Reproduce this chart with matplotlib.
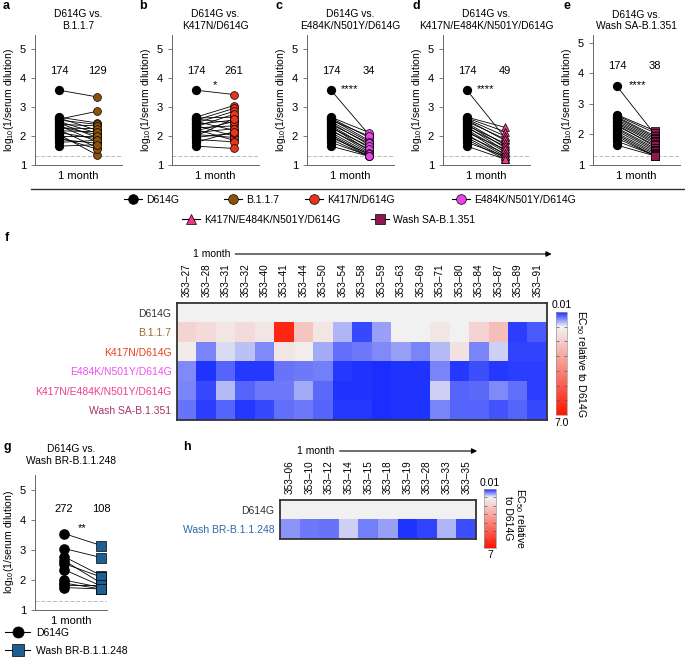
import numpy as np
import matplotlib
matplotlib.use("Agg")
import matplotlib.pyplot as plt
from matplotlib.colors import LinearSegmentedColormap, Normalize
from matplotlib.lines import Line2D

plt.rcParams["font.family"] = ["Liberation Sans", "DejaVu Sans"]
plt.rcParams["mathtext.fontset"] = "custom"
plt.rcParams["mathtext.rm"] = "Liberation Sans"

W, H = 685, 658


def rect(x, y, w, h):
    # pixel box (from top-left) -> figure fraction
    return [x / W, 1 - (y + h) / H, w / W, h / H]


# ---- data: paired neutralization titers (log10) ----
d614g = [3.58, 2.65, 2.62, 2.58, 2.55, 2.5, 2.45, 2.4, 2.36, 2.32,
         2.28, 2.22, 2.18, 2.12, 2.05, 2.0, 1.95, 1.88, 1.78, 1.65]
b117 = [3.35, 2.45, 2.2, 2.85, 2.4, 2.1, 1.95, 2.35, 1.8, 2.05,
        2.25, 1.6, 2.15, 1.9, 1.35, 2.0, 1.55, 1.75, 1.85, 1.7]
k417n = [3.43, 3.05, 2.65, 2.45, 2.95, 2.2, 2.85, 2.55, 2.0, 2.75,
         2.35, 1.85, 2.5, 2.25, 1.95, 2.6, 2.1, 1.8, 2.15, 1.57]
e484k = [2.05, 2.12, 1.95, 1.85, 2.0, 1.8, 1.7, 1.75, 1.6, 1.5,
         1.65, 1.45, 1.55, 1.4, 1.35, 1.3, 1.38, 1.3, 1.32, 1.3]
k417n_e484k = [1.95, 2.3, 2.15, 2.0, 1.85, 1.9, 1.7, 1.6, 1.75, 1.5,
               1.65, 1.45, 1.35, 1.55, 1.3, 1.4, 1.25, 1.2, 1.3, 1.2]
wash_sa = [2.0, 2.12, 2.05, 1.95, 1.9, 1.85, 1.8, 1.75, 1.7, 1.6,
           1.65, 1.55, 1.5, 1.45, 1.4, 1.35, 1.3, 1.3, 1.32, 1.3]

g_d614g = [3.55, 3.05, 2.78, 2.65, 2.55, 2.35, 2.0, 1.9, 1.85, 1.75]
g_wash_br = [3.15, 2.75, 2.15, 1.9, 2.1, 1.8, 1.75, 1.7, 1.85, 1.7]

titles = ["D614G vs.\nB.1.1.7", "D614G vs.\nK417N/D614G", "D614G vs.\nE484K/N501Y/D614G",
          "D614G vs.\nK417N/E484K/N501Y/D614G", "D614G vs.\nWash SA-B.1.351"]
gmt_left = ["174", "174", "174", "174", "174"]
gmt_right = ["129", "261", "34", "49", "38"]
stars = ["", "*", "****", "****", "****"]

variants = ["D614G", "B.1.1.7", "K417N/D614G", "E484K/N501Y/D614G",
            "K417N/E484K/N501Y/D614G", "Wash SA-B.1.351"]
fills = ["black", "#8c5208", "#e8341c", "#e645e6", "#f0388c", "#8c1a4c"]
markers = ["o", "o", "o", "o", "^", "s"]
label_colors = ["#333333", "#9a6a2a", "#e8401a", "#f050f0", "#f03c8c", "#a8326a"]

# ---- data: EC50 relative to D614G ----
f_cols = ["353–27", "353–28", "353–31", "353–32", "353–40", "353–41", "353–44",
          "353–50", "353–54", "353–58", "353–59", "353–63", "353–69", "353–71",
          "353–80", "353–84", "353–87", "353–89", "353–91"]
f_d614g = [1.0] * 19
f_b117 = [1.8, 1.6, 1.3, 1.6, 1.3, 6.5, 2.2, 1.3, 0.7, 0.15,
          0.6, 1.0, 1.0, 1.3, 1.0, 1.8, 2.4, 0.1, 0.25]
f_k417n = [1.2, 0.45, 0.9, 0.75, 0.5, 1.3, 1.15, 0.65, 0.35, 0.4,
           0.5, 0.6, 0.45, 0.72, 1.4, 0.45, 0.85, 0.12, 0.12]
f_e484k = [0.5, 0.05, 0.3, 0.07, 0.07, 0.38, 0.4, 0.44, 0.07, 0.05,
           0.02, 0.04, 0.04, 0.45, 0.08, 0.2, 0.08, 0.1, 0.1]
f_k417n_e484k = [0.45, 0.15, 0.72, 0.3, 0.4, 0.4, 0.65, 0.32, 0.06, 0.05,
                 0.02, 0.06, 0.05, 0.85, 0.3, 0.32, 0.5, 0.35, 0.1]
f_wash_sa = [0.38, 0.1, 0.3, 0.07, 0.15, 0.35, 0.4, 0.3, 0.08, 0.08,
             0.02, 0.05, 0.04, 0.45, 0.3, 0.3, 0.22, 0.3, 0.15]

h_cols = ["353–06", "353–10", "353–12", "353–14", "353–15", "353–18",
          "353–19", "353–28", "353–33", "353–35"]
h_d614g = [1.0] * 10
h_wash_br = [0.55, 0.4, 0.38, 0.85, 0.42, 0.6, 0.05, 0.12, 0.7, 0.18]

br_color = "#1f5f8f"
br_label_color = "#2a6aa8"

cmap = LinearSegmentedColormap.from_list(
    "ec50", [(0.0, "#1a2eff"), (0.99 / 6.99, "#f2f2f2"), (1.0, "#ff1400")])
norm = Normalize(0.01, 7.0)

fig = plt.figure(figsize=(W / 100, H / 100), dpi=100)


def paired_axes(box, left, right, color, marker, ytop, size=32):
    ax = fig.add_axes(rect(*box))
    for a, b in zip(left, right):
        ax.plot([0, 1], [a, b], color="black", lw=0.6, zorder=1)
    ax.scatter(np.zeros(len(left)), left, s=size, c="black", zorder=3)
    ax.scatter(np.ones(len(right)), right, s=size, c=color, marker=marker,
               edgecolors="black", linewidths=0.5, zorder=3)
    ax.axhline(1.3, color="#bbbbbb", lw=0.7, ls=(0, (4, 2)), zorder=0)
    ax.set_ylim(1, ytop)
    ax.set_yticks([1, 2, 3, 4, 5])
    ax.set_xticks([])
    ax.set_xlabel("1 month", fontsize=8, labelpad=4)
    ax.set_ylabel("log$_{\\mathregular{10}}$(1/serum dilution)", fontsize=7.5, labelpad=3)
    ax.tick_params(axis="y", labelsize=8, length=3, width=0.6, color="#666666")
    for s in ["top", "right"]:
        ax.spines[s].set_visible(False)
    for s in ["left", "bottom"]:
        ax.spines[s].set_linewidth(0.7)
        ax.spines[s].set_color("#666666")
    return ax


# ---- panels a-e ----
lefts = [35, 172, 307, 443, 593]
rights = [b117, k417n, e484k, k417n_e484k, wash_sa]
letters = ["a", "b", "c", "d", "e"]
letter_x = [3, 139, 276, 413, 564]
star_x = [0.5, 0.5, 0.5, 0.5, 0.55]
for i in range(5):
    if i == 4:
        ax = paired_axes((lefts[i], 35, 87, 130), d614g, rights[i], fills[i + 1],
                         markers[i + 1], 5.26)
    else:
        ax = paired_axes((lefts[i], 34.5, 87, 130.5), d614g, rights[i], fills[i + 1],
                         markers[i + 1], 5.5)
    ax.set_xlim(-0.63, 1.66)
    ax.set_title(titles[i], fontsize=7.4, pad=4, linespacing=1.2)
    ax.text(0, 4.25, gmt_left[i], ha="center", va="center", fontsize=8)
    ax.text(1, 4.25, gmt_right[i], ha="center", va="center", fontsize=8)
    if stars[i] == "*":
        ax.text(0.5, 3.75, stars[i], ha="center", va="center", fontsize=8)
    elif stars[i]:
        ax.text(star_x[i], 3.62, stars[i], ha="center", va="center", fontsize=8)
    fig.text(letter_x[i] / W, 1 - 6 / H, letters[i], fontsize=9, fontweight="bold",
             va="center")

# separator line
fig.add_artist(Line2D([31 / W, 1.0], [1 - 189 / H] * 2, color="#333333", lw=1.0))


def handle(color, marker, size=7):
    return Line2D([], [], color="black", lw=0.8, marker=marker, markersize=size,
                  markerfacecolor=color, markeredgecolor="black", markeredgewidth=0.5)


def legend_entry(h, label, x, y, fontsize=7.5, hl=1.7, pad=0.4):
    fig.legend([h], [label], loc="center left", frameon=False, borderpad=0,
               borderaxespad=0, bbox_to_anchor=(x / W, 1 - y / H), fontsize=fontsize,
               handlelength=hl, handletextpad=pad)


handles = [handle(c, m) for c, m in zip(fills, markers)]
entry_x = [124, 224, 305, 452, 182, 371]
entry_y = [200, 200, 200, 200, 220, 220]
for h, lab, x, y in zip(handles, variants, entry_x, entry_y):
    legend_entry(h, lab, x, y)


def heatmap(box, rows, row_labels, row_colors, cols, cbox, cb_label, cb_bottom, lpad):
    ax = fig.add_axes(rect(*box))
    im = ax.imshow(np.array(rows), cmap=cmap, norm=norm, aspect="auto",
                   interpolation="nearest")
    ax.set_xticks(range(len(cols)))
    ax.set_xticklabels(cols, rotation=90, fontsize=7.2)
    ax.xaxis.tick_top()
    ax.set_yticks(range(len(row_labels)))
    ax.set_yticklabels(row_labels, fontsize=7.5)
    for lab, c in zip(ax.get_yticklabels(), row_colors):
        lab.set_color(c)
    ax.tick_params(length=0, pad=4)
    for s in ax.spines.values():
        s.set_linewidth(1.3)
        s.set_color("#333333")
    cax = fig.add_axes(rect(*cbox))
    cb = fig.colorbar(im, cax=cax)
    cb.set_ticks([1, 2, 3, 4, 5, 6])
    cax.invert_yaxis()
    cb.ax.tick_params(direction="in", length=2.5, width=0.5, color="#555555",
                      labelright=False, left=True, right=True)
    cb.outline.set_linewidth(0.5)
    cb.outline.set_edgecolor("#999999")
    cax.text(0.5, 1.02, "0.01", ha="center", va="bottom", fontsize=7.5,
             transform=cax.transAxes)
    cax.text(0.5, -0.03, cb_bottom, ha="center", va="top", fontsize=7.5,
             transform=cax.transAxes)
    cb.set_label(cb_label, rotation=270, fontsize=7.5, labelpad=lpad, va="bottom",
                 linespacing=1.0)
    return ax


# ---- panel f ----
f_rows = [f_d614g, f_b117, f_k417n, f_e484k, f_k417n_e484k, f_wash_sa]
axf = heatmap((177, 303, 370, 117), f_rows, variants, label_colors, f_cols,
              (556, 312, 11, 103), "EC$_{\\mathregular{50}}$ relative to D614G", "7.0", 5)
fy = (420 - 254) / 117
axf.text(0.043, fy, "1 month", transform=axf.transAxes, fontsize=7.5, va="center")
axf.annotate("", xy=(1.02, fy), xytext=(0.15, fy), xycoords="axes fraction",
             arrowprops=dict(arrowstyle="-|>", lw=0.8, color="black", mutation_scale=8))
fig.text(5 / W, 1 - 238 / H, "f", fontsize=9, fontweight="bold", va="center")

# ---- panel g ----
axg = paired_axes((35, 475, 72, 135), g_d614g, g_wash_br, br_color, "s", 5.5, size=44)
axg.set_xlim(-0.78, 1.16)
axg.set_title("D614G vs.\nWash BR-B.1.1.248", fontsize=7.4, pad=8, linespacing=1.2)
axg.text(0, 4.35, "272", ha="center", va="center", fontsize=8)
axg.text(1, 4.35, "108", ha="center", va="center", fontsize=8)
axg.text(0.5, 3.72, "**", ha="center", va="center", fontsize=8)
fig.text(3 / W, 1 - 447 / H, "g", fontsize=9, fontweight="bold", va="center")
legend_entry(handle("black", "o", 8), "D614G", 5, 633, fontsize=7.5, hl=2.4, pad=0.6)
legend_entry(handle(br_color, "s", 8), "Wash BR-B.1.1.248", 5, 651, fontsize=7.5,
             hl=2.4, pad=0.6)

# ---- panel h ----
axh = heatmap((280, 500, 196, 39), [h_d614g, h_wash_br], ["D614G", "Wash BR-B.1.1.248"],
              ["#333333", br_label_color], h_cols, (484, 489, 12, 59),
              "EC$_{\\mathregular{50}}$ relative\nto D614G", "7", 5)
hy = (539 - 451) / 39
axh.text(0.085, hy, "1 month", transform=axh.transAxes, fontsize=7.5, va="center")
axh.annotate("", xy=(1.02, hy), xytext=(0.29, hy), xycoords="axes fraction",
             arrowprops=dict(arrowstyle="-|>", lw=0.8, color="black", mutation_scale=8))
fig.text(183 / W, 1 - 447 / H, "h", fontsize=9, fontweight="bold", va="center")

fig.savefig("out.png", dpi=100)
